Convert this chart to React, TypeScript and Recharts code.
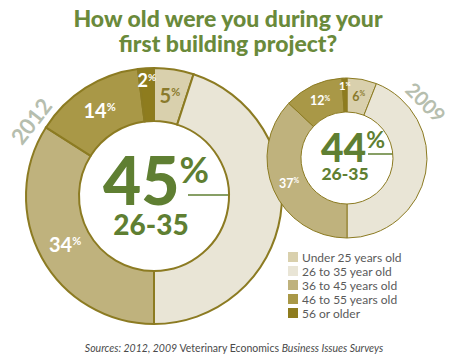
import React from 'react';
import { PieChart, Pie, Cell } from 'recharts';

const categories = ['Under 25 years old', '26 to 35 year old', '36 to 45 years old', '46 to 55 years old', '56 or older'];
const values2012 = [5, 45, 34, 14, 2];
const values2009 = [6, 44, 37, 12, 1];
const sliceColors = ['#d9d0ad', '#e9e5d6', '#bfb27d', '#a99847', '#8e7c1e'];
const labelColors = ['#8a7a2c', '#ffffff', '#ffffff', '#ffffff', '#ffffff'];
const titleLines = ['How old were you during your', 'first building project?'];
const years = ['2012', '2009'];
const highlightIndex = 1;
const highlightLabel = '26-35';

const data2012 = categories.map((name, i) => ({ name, value: values2012[i] }));
const data2009 = categories.map((name, i) => ({ name, value: values2009[i] }));

const W = 450;
const H = 364;
const GREEN = '#5f7f32';
const OLIVE = '#8c7b22';
const FONT = 'Lato, "Open Sans", sans-serif';
const RAD = Math.PI / 180;

const big = { cx: 154, cy: 196, inner: 75, outer: 128, fs: 20 };
const small = { cx: 347, cy: 158, inner: 46, outer: 80, fs: 12.5 };

const makeLabel = (fs: number) => (props: any) => {
  const { cx, cy, midAngle, innerRadius, outerRadius, value, index } = props;
  if (index === highlightIndex) return null;
  const tiny = value < 3;
  const frac = tiny ? 0.76 : 0.5;
  const r = innerRadius + (outerRadius - innerRadius) * frac;
  const x = cx + r * Math.cos(-midAngle * RAD);
  const y = cy + r * Math.sin(-midAngle * RAD);
  const size = tiny ? fs * 0.9 : fs;
  return (
    <text
      x={x}
      y={y + size * 0.36}
      textAnchor="middle"
      fill={labelColors[index]}
      fontFamily={FONT}
      fontWeight={700}
      fontSize={size}
    >
      <tspan>{value}</tspan>
      <tspan fontSize={size * 0.55} dy={-size * 0.35}>%</tspan>
    </text>
  );
};

export default function App() {
  const v12 = values2012[highlightIndex];
  const v09 = values2009[highlightIndex];
  return (
    <div style={{ position: 'absolute', left: 0, top: 0, width: W, height: H, background: '#fff' }}>
      <PieChart width={W} height={H} margin={{ top: 0, right: 0, bottom: 0, left: 0 }}>
        <Pie
          data={data2012}
          dataKey="value"
          nameKey="name"
          cx={big.cx}
          cy={big.cy}
          innerRadius={big.inner}
          outerRadius={big.outer}
          startAngle={90}
          endAngle={-270}
          stroke={OLIVE}
          strokeWidth={2}
          isAnimationActive={false}
          labelLine={false}
          label={makeLabel(big.fs)}
        >
          {data2012.map((d, i) => (
            <Cell key={d.name} fill={sliceColors[i]} />
          ))}
        </Pie>
        <Pie
          data={data2009}
          dataKey="value"
          nameKey="name"
          cx={small.cx}
          cy={small.cy}
          innerRadius={small.inner}
          outerRadius={small.outer}
          startAngle={90}
          endAngle={-270}
          stroke={OLIVE}
          strokeWidth={1}
          isAnimationActive={false}
          labelLine={false}
          label={makeLabel(small.fs)}
        >
          {data2009.map((d, i) => (
            <Cell key={d.name} fill={sliceColors[i]} />
          ))}
        </Pie>

        {/* title */}
        <text x={228} y={27} textAnchor="middle" fill="#6a8a3b" fontFamily={FONT} fontWeight={900} fontSize={23}>
          {titleLines[0]}
        </text>
        <text x={228} y={52} textAnchor="middle" fill="#6a8a3b" fontFamily={FONT} fontWeight={900} fontSize={23}>
          {titleLines[1]}
        </text>

        {/* year labels */}
        <text x={31} y={121} textAnchor="middle" dominantBaseline="central" fill="#b6beae" fontFamily={FONT} fontWeight={700} fontSize={22} transform="rotate(-52 31 121)">
          {years[0]}
        </text>
        <text x={426} y={102} textAnchor="middle" dominantBaseline="central" fill="#b6beae" fontFamily={FONT} fontWeight={700} fontSize={20} transform="rotate(45 426 102)">
          {years[1]}
        </text>

        {/* center 2012 */}
        <text x={big.cx + 2} y={205} textAnchor="middle" fill={GREEN} fontFamily={FONT} fontWeight={900} fontSize={66}>
          <tspan>{v12}</tspan>
          <tspan fontSize={36} fontWeight={700} dy={-22}>%</tspan>
        </text>
        <text x={big.cx - 3} y={235} textAnchor="middle" fill={GREEN} fontFamily={FONT} fontWeight={900} fontSize={28}>
          {highlightLabel}
        </text>
        <line x1={188} y1={195} x2={252} y2={195} stroke={GREEN} strokeWidth={1.5} />
        <circle cx={252} cy={195} r={4} fill={GREEN} />

        {/* center 2009 */}
        <text x={small.cx + 6} y={162} textAnchor="middle" fill={GREEN} fontFamily={FONT} fontWeight={900} fontSize={39}>
          <tspan>{v09}</tspan>
          <tspan fontSize={23} fontWeight={700} dy={-14}>%</tspan>
        </text>
        <text x={small.cx - 2} y={180} textAnchor="middle" fill={GREEN} fontFamily={FONT} fontWeight={900} fontSize={17.5}>
          {highlightLabel}
        </text>
        <line x1={368} y1={154} x2={402} y2={154} stroke={GREEN} strokeWidth={1.5} />
        <circle cx={402} cy={154} r={3.5} fill={GREEN} />

        {/* legend */}
        {categories.map((c, i) => (
          <g key={c}>
            <rect x={288} y={252 + i * 14} width={10} height={10} fill={sliceColors[i]} />
            <text x={302} y={261.5 + i * 14} fill="#5a5a5a" fontFamily={FONT} fontSize={12}>
              {c}
            </text>
          </g>
        ))}

        {/* source */}
        <text x={234} y={352} textAnchor="middle" fill="#4a4a4a" fontFamily={FONT} fontSize={10.5}>
          <tspan fontStyle="italic">Sources: 2012, 2009 </tspan>
          <tspan>Veterinary Economics </tspan>
          <tspan fontStyle="italic">Business Issues Surveys</tspan>
        </text>
      </PieChart>
    </div>
  );
}
